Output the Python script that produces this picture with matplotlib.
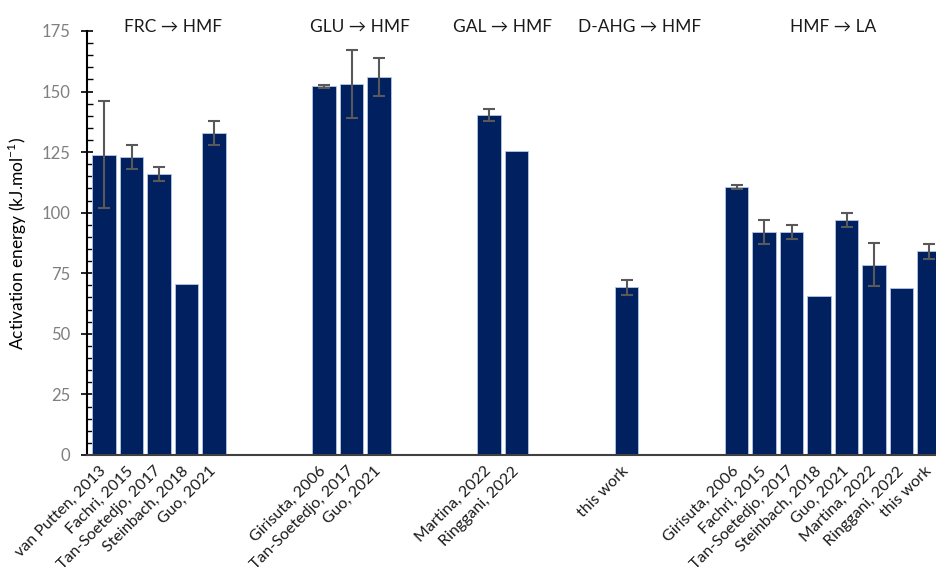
import numpy as np
import matplotlib.pyplot as plt
from matplotlib.ticker import MultipleLocator

plt.rcParams['font.family'] = ['Lato', 'DejaVu Sans']

# data: one list per group, empty slots between groups
frc_labels = ['van Putten, 2013', 'Fachri, 2015', 'Tan-Soetedjo, 2017', 'Steinbach, 2018', 'Guo, 2021']
frc_values = [124, 123, 116, 70.5, 133]
frc_err = [22, 5, 3, 0, 5]

glu_labels = ['Girisuta, 2006', 'Tan-Soetedjo, 2017', 'Guo, 2021']
glu_values = [152.2, 153, 156]
glu_err = [0.7, 14, 8]

gal_labels = ['Martina, 2022', 'Ringgani, 2022']
gal_values = [140.2, 125.3]
gal_err = [2.4, 0]

ahg_labels = ['this work']
ahg_values = [69.2]
ahg_err = [3.2]

la_labels = ['Girisuta, 2006', 'Fachri, 2015', 'Tan-Soetedjo, 2017', 'Steinbach, 2018',
             'Guo, 2021', 'Martina, 2022', 'Ringgani, 2022', 'this work']
la_values = [110.6, 92, 92, 65.5, 97, 78.6, 68.8, 84]
la_err = [0.7, 5, 3, 0, 3, 8.8, 0, 3.2]

groups = [('FRC \u2192 HMF', frc_labels, frc_values, frc_err),
          ('GLU \u2192 HMF', glu_labels, glu_values, glu_err),
          ('GAL \u2192 HMF', gal_labels, gal_values, gal_err),
          ('D-AHG \u2192 HMF', ahg_labels, ahg_values, ahg_err),
          ('HMF \u2192 LA', la_labels, la_values, la_err)]
title_shift = [0.5, 0.3, 0.0, 0.47, 0.0]   # titles are not exactly centred in the original
gap = 3

fig = plt.figure(figsize=(9.37, 5.84), dpi=100)
ax = fig.add_axes([0.0928, 0.2209, 0.9072, 0.7261])

pos = 0
xs, ys, es, labs = [], [], [], []
for (title, labels, values, err), shift in zip(groups, title_shift):
    x = np.arange(pos, pos + len(labels))
    xs.extend(x)
    ys.extend(values)
    es.extend(err)
    labs.extend(labels)
    ax.text(x.mean() + shift, 176.5, title, ha='center', va='center', fontsize=12.5,
            color='#1a1a1a', clip_on=False)
    pos += len(labels) + gap

xs = np.array(xs)
ys = np.array(ys)
es = np.array(es, dtype=float)

ax.bar(xs, ys, width=0.87, color='#002060', edgecolor='#b4c7e7', linewidth=0.6, zorder=2)
has_err = es > 0
ax.errorbar(xs[has_err], ys[has_err], yerr=es[has_err], fmt='none', ecolor='#595959',
            elinewidth=1.5, capsize=4, capthick=1.5, zorder=3)

ax.set_xlim(-0.62, 30.29)
ax.set_ylim(0, 175)
ax.set_xticks(xs)
ax.set_xticklabels(labs, rotation=45, ha='right', va='center', rotation_mode='anchor',
                   fontsize=11.5, color='#1a1a1a')
ax.tick_params(axis='x', length=0, pad=10)

ax.yaxis.set_major_locator(MultipleLocator(25))
ax.yaxis.set_minor_locator(MultipleLocator(5))
ax.tick_params(axis='y', which='major', direction='inout', length=8, width=1.2,
               labelsize=12, labelcolor='#7f7f7f', pad=8)
ax.tick_params(axis='y', which='minor', direction='in', length=4, width=1.0)
ax.set_ylabel('Activation energy (kJ.mol$^{\\mathregular{-1}}$)', fontsize=12.5)
ax.yaxis.set_label_coords(-0.068, 0.5)

ax.spines['top'].set_visible(False)
ax.spines['right'].set_visible(False)
ax.spines['left'].set_linewidth(1.5)
ax.spines['bottom'].set_linewidth(1.5)
ax.spines['bottom'].set_color('#404040')

fig.savefig('out.png', dpi=100)
